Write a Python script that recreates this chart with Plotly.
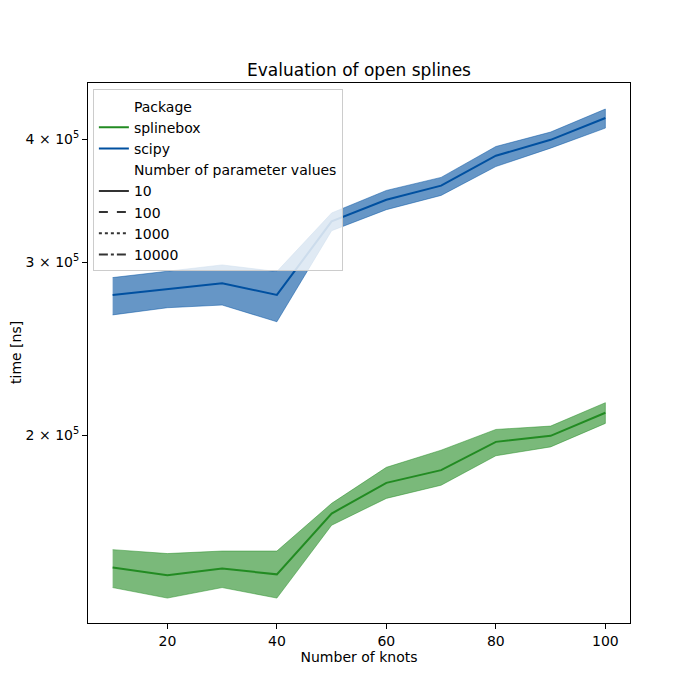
import plotly.graph_objects as go

knots = [10, 20, 30, 40, 50, 60, 70, 80, 90, 100]

splinebox_mean = [146800, 144200, 146500, 144500, 166600, 179000, 184400, 197000, 199800, 210900]
splinebox_upper = [153100, 151700, 152600, 152600, 170600, 185600, 193200, 202800, 204400, 215900]
splinebox_lower = [140100, 136700, 140100, 136700, 162100, 172600, 178000, 190700, 194700, 205700]

scipy_mean = [277800, 281500, 285500, 277800, 329900, 347100, 358700, 384700, 399300, 420200]
scipy_upper = [289300, 293400, 298000, 293400, 336500, 354700, 365700, 393100, 406600, 429100]
scipy_lower = [265100, 269600, 271300, 260900, 322800, 339100, 350600, 375100, 391600, 410400]

packages = ["splinebox", "scipy"]
param_values = ["10", "100", "1000", "10000"]
dash_styles = ["solid", "dash", "dot", "dashdot"]

ytick_vals = [200000, 300000, 400000]
ytick_text = ["2 × 10<sup>5</sup>", "3 × 10<sup>5</sup>", "4 × 10<sup>5</sup>"]

GREEN = "#228B22"
GREEN_BAND = "rgba(34,139,34,0.6)"
BLUE = "#0050A0"
BLUE_BAND = "rgba(0,80,160,0.6)"

FONT = "DejaVu Sans"

fig = go.Figure()

series = [
    (splinebox_mean, splinebox_upper, splinebox_lower, GREEN, GREEN_BAND),
    (scipy_mean, scipy_upper, scipy_lower, BLUE, BLUE_BAND),
]
for mean, up, lo, col, band in series:
    fig.add_trace(go.Scatter(
        x=knots + knots[::-1], y=up + lo[::-1],
        fill="toself", fillcolor=band, line=dict(width=0.8, color=band),
        mode="lines", showlegend=False, hoverinfo="skip"))
    fig.add_trace(go.Scatter(
        x=knots, y=mean, mode="lines",
        line=dict(color=col, width=2), showlegend=False))

# Legend entries
def legend_entry(name, color, width, dash="solid"):
    fig.add_trace(go.Scatter(
        x=[None], y=[None], mode="lines", name=name,
        line=dict(color=color, width=width, dash=dash), showlegend=True))

legend_entry("Package", "rgba(0,0,0,0)", 0)
legend_entry(packages[0], GREEN, 2)
legend_entry(packages[1], BLUE, 2)
legend_entry("Number of parameter values", "rgba(0,0,0,0)", 0)
for pv, ds in zip(param_values, dash_styles):
    legend_entry(pv, "#333333", 2, ds)

fig.update_layout(
    width=700, height=700,
    margin=dict(l=88, r=70, t=83, b=77),
    paper_bgcolor="white", plot_bgcolor="white",
    font=dict(family=FONT, size=14, color="black"),
    title=dict(text="Evaluation of open splines", x=0.5, xref="paper",
               xanchor="center", y=1 - 70 / 700, yref="container",
               yanchor="middle", font=dict(family=FONT, size=17, color="black")),
    legend=dict(x=0.009, y=0.988, xanchor="left", yanchor="top",
                bgcolor="rgba(255,255,255,0.8)", bordercolor="#cccccc",
                borderwidth=1, font=dict(family=FONT, size=14),
                traceorder="normal", tracegroupgap=0, itemwidth=30),
    showlegend=True,
    annotations=[dict(text="time [ns]", textangle=-90, xref="paper", yref="paper",
                      x=(16 - 88) / 542, y=0.5, xanchor="center", yanchor="middle",
                      showarrow=False, font=dict(family=FONT, size=14, color="black"))],
)

fig.update_xaxes(
    range=[5.5, 104.5], tickvals=[20, 40, 60, 80, 100], automargin=False,
    showline=True, linecolor="black", linewidth=1, mirror=True,
    ticks="outside", ticklen=5, tickcolor="black", showgrid=False, zeroline=False,
    title=dict(text="Number of knots", font=dict(family=FONT, size=14), standoff=4),
    tickfont=dict(family=FONT, size=14))

fig.update_yaxes(
    type="log", range=[5.11045, 5.65901], automargin=False,
    tickvals=ytick_vals, ticktext=ytick_text,
    showline=True, linecolor="black", linewidth=1, mirror=True,
    ticks="outside", ticklen=5, tickcolor="black", showgrid=False, zeroline=False,
    tickfont=dict(family=FONT, size=14))

fig.write_html("out.html")
